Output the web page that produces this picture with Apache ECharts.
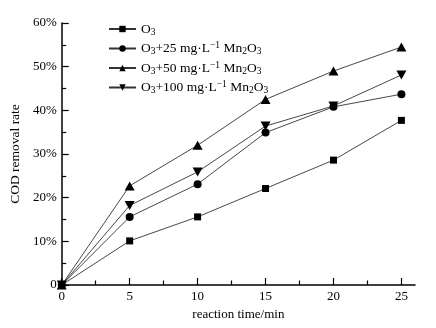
<!DOCTYPE html>
<html>
<head>
<meta charset="utf-8">
<script src="https://cdn.jsdelivr.net/npm/echarts@6/dist/echarts.min.js"></script>
<style>html,body{margin:0;padding:0;background:#fff;}#c{width:436px;height:328px;}</style>
</head>
<body>
<div id="c"></div>
<script>
var times = [0, 5, 10, 15, 20, 25];
var xTicks = [0, 5, 10, 15, 20, 25];
var xMinorTicks = [2.5, 7.5, 12.5, 17.5, 22.5];
var seriesNames = ['O3', 'O3+25 mg·L-1 Mn2O3', 'O3+50 mg·L-1 Mn2O3', 'O3+100 mg·L-1 Mn2O3'];
var legendRich = [
  'O{sub|3}',
  'O{sub|3}+25 mg·L{sup|−1} Mn{sub|2}O{sub|3}',
  'O{sub|3}+50 mg·L{sup|−1} Mn{sub|2}O{sub|3}',
  'O{sub|3}+100 mg·L{sup|−1} Mn{sub|2}O{sub|3}'
];
var o3 = [0, 10.1, 15.6, 22.1, 28.6, 37.7];
var mn25 = [0, 15.6, 23.1, 34.9, 40.8, 43.7];
var mn50 = [0, 22.7, 32.0, 42.5, 49.0, 54.5];
var mn100 = [0, 18.2, 25.9, 36.4, 41.0, 48.1];
var symbols = ['rect', 'circle', 'triangle', 'path://M0,0L10,0L5,9Z'];
var symbolSizes = [7, 8, [10, 9], [10, 9]];
var allData = [o3, mn25, mn50, mn100];

var font = 'Liberation Serif, Times New Roman, serif';
var chart = echarts.init(document.getElementById('c'));
var series = allData.map(function (d, i) {
  return {
    name: seriesNames[i],
    type: 'line',
    data: times.map(function (t, j) { return [t, d[j]]; }),
    symbol: symbols[i],
    symbolSize: symbolSizes[i],
    showAllSymbol: true,
    lineStyle: { color: '#333', width: 0.9 },
    itemStyle: { color: '#000' },
    xAxisIndex: 0,
    yAxisIndex: 0
  };
});
chart.setOption({
  animation: false,
  backgroundColor: '#fff',
  textStyle: { fontFamily: font },
  grid: { left: 59, right: 21, top: 23, bottom: 43, containLabel: false },
  legend: {
    orient: 'vertical',
    left: 103,
    top: 16,
    itemWidth: 27,
    itemHeight: 8,
    itemGap: 3.5,
    data: seriesNames,
    formatter: function (name) { return legendRich[seriesNames.indexOf(name)]; },
    textStyle: {
      fontFamily: font, fontSize: 13.5, color: '#000', lineHeight: 16,
      rich: {
        sub: { fontFamily: font, fontSize: 9.5, verticalAlign: 'bottom', lineHeight: 16, color: '#000' },
        sup: { fontFamily: font, fontSize: 9.5, verticalAlign: 'top', lineHeight: 16, color: '#000' }
      }
    }
  },
  xAxis: [{
    type: 'value', min: 0, max: 26,
    name: 'reaction time/min', nameLocation: 'middle', nameGap: 22,
    nameTextStyle: { fontFamily: font, fontSize: 13, color: '#000' },
    axisLine: { lineStyle: { color: '#000', width: 1.5 } },
    axisTick: { inside: true, length: 7, customValues: xTicks, lineStyle: { color: '#000', width: 1.2 } },
    axisLabel: { customValues: xTicks, fontFamily: font, fontSize: 13, color: '#000', margin: 5 },
    splitLine: { show: false }
  }, {
    type: 'value', min: 0, max: 26, position: 'bottom',
    axisLine: { show: false },
    axisTick: { inside: true, length: 4.5, customValues: xMinorTicks, lineStyle: { color: '#000', width: 1.2 } },
    axisLabel: { show: false },
    splitLine: { show: false }
  }],
  yAxis: {
    type: 'value', min: 0, max: 60, interval: 10,
    name: 'COD removal rate', nameLocation: 'middle', nameGap: 32, nameRotate: 90,
    nameTextStyle: { fontFamily: font, fontSize: 13.5, color: '#000' },
    axisLine: { show: true, lineStyle: { color: '#000', width: 1.5 } },
    axisTick: { show: true, inside: true, length: 7, lineStyle: { color: '#000', width: 1.2 } },
    minorTick: { show: true, splitNumber: 2, length: 4.5, lineStyle: { color: '#000', width: 1.2 } },
    axisLabel: {
      fontFamily: font, fontSize: 13, color: '#000', margin: 5,
      formatter: function (v) { return v === 0 ? '0' : v + '%'; }
    },
    splitLine: { show: false }
  },
  series: series
});
</script>
</body>
</html>
